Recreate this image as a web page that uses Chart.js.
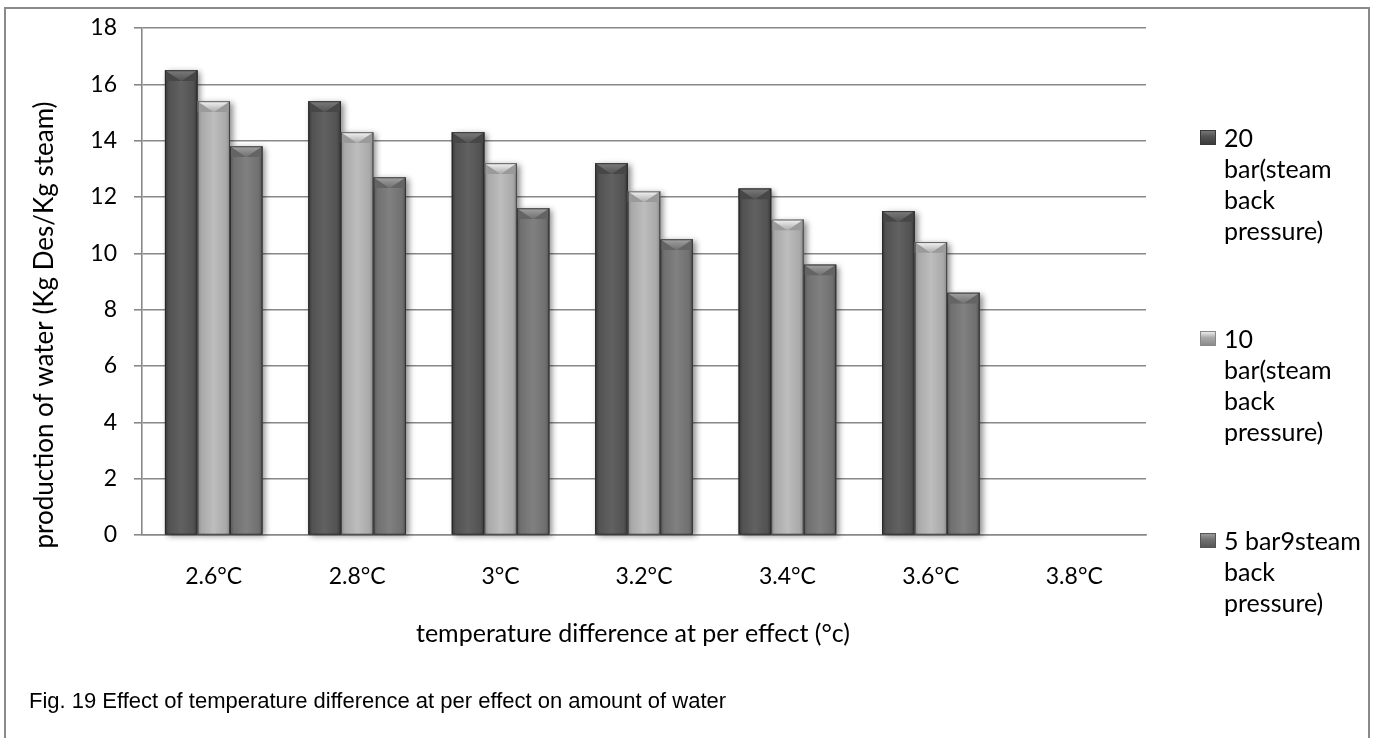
<!DOCTYPE html>
<html>
<head>
<meta charset="utf-8">
<script src="https://cdn.jsdelivr.net/npm/chart.js@4.4.0/dist/chart.umd.min.js"></script>
<style>
  html, body { margin: 0; padding: 0; background: #fff; }
  body { width: 1375px; height: 738px; position: relative; overflow: hidden; }
  #frame { position: absolute; left: 4px; top: 7px; width: 1366px; height: 760px; border: 2px solid #8a8a8a; box-sizing: border-box; }
  #chart { position: absolute; left: 0; top: 0; }
  #legend { position: absolute; left: 1200px; top: 0; width: 170px; font-family: Lato, "Open Sans", sans-serif; font-size: 25px; color: #000; }
  .item { position: absolute; left: 0; white-space: nowrap; }
  .item .box { position: absolute; left: 0; width: 16px; height: 15px; }
  .item .txt { position: absolute; left: 24px; top: 0; line-height: 31px; }
  #caption { position: absolute; left: 29px; top: 688px; font-family: "Liberation Sans", Arial, sans-serif; font-size: 22px; color: #000; white-space: nowrap; }
</style>
</head>
<body>
<div id="frame"></div>
<canvas id="chart" width="1375" height="738"></canvas>
<div id="legend"></div>
<div id="caption"></div>
<script>
// ---- data ----
const categories = ["2.6°C", "2.8°C", "3°C", "3.2°C", "3.4°C", "3.6°C", "3.8°C"];
const bar20 = [16.5, 15.4, 14.3, 13.2, 12.3, 11.5, null];
const bar10 = [15.4, 14.3, 13.2, 12.2, 11.2, 10.4, null];
const bar5  = [13.8, 12.7, 11.6, 10.5, 9.6, 8.6, null];
const seriesLabels = [
  ["20", "bar(steam", "back", "pressure)"],
  ["10", "bar(steam", "back", "pressure)"],
  ["5 bar9steam", "back", "pressure)"]
];
const yTicks = [0, 2, 4, 6, 8, 10, 12, 14, 16, 18];
const xTitle = "temperature difference at per effect (°c)";
const yTitle = "production of water (Kg Des/Kg steam)";
const captionText = "Fig. 19 Effect of temperature difference at per effect on amount of water";

// ---- styles ----
const palettes = [
  { flat: "#555555", edge: "#383838", mid: "#525252", light: "#616161", capA: "#7c7c7c", capB: "#474747" },
  { flat: "#a8a8a8", edge: "#888888", mid: "#a9a9a9", light: "#bdbdbd", capA: "#f6f6f6", capB: "#9a9a9a" },
  { flat: "#737373", edge: "#545454", mid: "#707070", light: "#808080", capA: "#a2a2a2", capB: "#646464" }
];
const FONT = "Lato, 'Open Sans', sans-serif";

function paintBar(ctx, x0, x1, yTop, yBase, p) {
  const w = x1 - x0;
  const g = ctx.createLinearGradient(x0, 0, x1, 0);
  g.addColorStop(0, p.edge);
  g.addColorStop(0.12, p.mid);
  g.addColorStop(0.5, p.light);
  g.addColorStop(0.88, p.mid);
  g.addColorStop(1, p.edge);
  ctx.fillStyle = g;
  ctx.fillRect(x0, yTop, w, yBase - yTop);
  const h = Math.min(w * 0.33, yBase - yTop);
  const cx = (x0 + x1) / 2;
  ctx.fillStyle = p.capB;
  ctx.beginPath();
  ctx.moveTo(x0, yTop); ctx.lineTo(cx, yTop + h); ctx.lineTo(x0, yTop + h); ctx.closePath(); ctx.fill();
  ctx.beginPath();
  ctx.moveTo(x1, yTop); ctx.lineTo(cx, yTop + h); ctx.lineTo(x1, yTop + h); ctx.closePath(); ctx.fill();
  const cg = ctx.createLinearGradient(0, yTop, 0, yTop + h);
  cg.addColorStop(0, p.capA);
  cg.addColorStop(1, p.mid);
  ctx.fillStyle = cg;
  ctx.beginPath();
  ctx.moveTo(x0, yTop); ctx.lineTo(x1, yTop); ctx.lineTo(cx, yTop + h); ctx.closePath(); ctx.fill();
  ctx.strokeStyle = "rgba(30,30,30,0.7)";
  ctx.lineWidth = 1;
  ctx.strokeRect(x0 + 0.5, yTop + 0.5, w - 1, yBase - yTop - 0.5);
}

const bevelPlugin = {
  id: "bevel",
  afterDatasetsDraw(chart) {
    const ctx = chart.ctx;
    const metas = chart.data.datasets.map((d, i) => chart.getDatasetMeta(i));
    ctx.save();
    ctx.shadowColor = "rgba(0,0,0,0.45)";
    ctx.shadowBlur = 6;
    ctx.shadowOffsetX = 3;
    ctx.shadowOffsetY = 2;
    metas.forEach((meta, di) => {
      meta.data.forEach((el, i) => {
        if (chart.data.datasets[di].data[i] == null) return;
        ctx.fillStyle = palettes[di].flat;
        ctx.fillRect(el.x - el.width / 2, el.y, el.width, el.base - el.y);
      });
    });
    ctx.restore();
    ctx.save();
    metas.forEach((meta, di) => {
      meta.data.forEach((el, i) => {
        if (chart.data.datasets[di].data[i] == null) return;
        paintBar(ctx, el.x - el.width / 2, el.x + el.width / 2, el.y, el.base, palettes[di]);
      });
    });
    ctx.restore();
  }
};

// axis titles placed as in the reference (not centred on the plot)
const axisTitlePlugin = {
  id: "axisTitles",
  afterDraw(chart) {
    const ctx = chart.ctx;
    ctx.save();
    ctx.fillStyle = "#000";
    ctx.textAlign = "center";
    ctx.textBaseline = "middle";
    ctx.font = "25px " + FONT;
    ctx.fillText(xTitle, 633, 634);
    ctx.translate(45, 325);
    ctx.rotate(-Math.PI / 2);
    ctx.font = "26px " + FONT;
    ctx.fillText(yTitle, 0, 0);
    ctx.restore();
  }
};

const seriesData = [bar20, bar10, bar5];
const chart = new Chart(document.getElementById("chart"), {
  type: "bar",
  data: {
    labels: categories,
    datasets: seriesData.map((d, i) => ({
      label: seriesLabels[i].join(" "),
      data: d,
      backgroundColor: palettes[i].flat,
      borderWidth: 0,
      categoryPercentage: 0.68,
      barPercentage: 1.0
    }))
  },
  options: {
    responsive: false,
    animation: false,
    devicePixelRatio: 1,
    layout: { padding: { left: 14, top: 28, right: 229, bottom: 91 } },
    plugins: { legend: { display: false }, tooltip: { enabled: false } },
    scales: {
      x: {
        grid: { display: true, drawOnChartArea: false, drawTicks: false },
        border: { display: true, color: "#888888", width: 1.6 },
        ticks: { color: "#000", font: { family: FONT, size: 23 }, padding: 28, maxRotation: 0 },
        title: { display: false, text: xTitle },
        afterFit(scale) { scale.height = 112; scale.paddingLeft = 0; scale.paddingRight = 0; }
      },
      y: {
        min: 0, max: 18,
        afterBuildTicks(scale) { scale.ticks = yTicks.map(v => ({ value: v })); },
        grid: { color: "#888888", lineWidth: 1.6, tickLength: 8, drawTicks: true },
        border: { display: true, color: "#888888", width: 1.6 },
        ticks: { color: "#000", font: { family: FONT, size: 23 }, padding: 17 },
        title: { display: false, text: yTitle },
        afterFit(scale) { scale.width = 128; scale.paddingTop = 0; scale.paddingBottom = 0; }
      }
    }
  },
  plugins: [bevelPlugin, axisTitlePlugin]
});

// ---- legend (HTML) ----
const legendTops = [137, 338, 540];
const legend = document.getElementById("legend");
seriesLabels.forEach((lines, i) => {
  const item = document.createElement("div");
  item.className = "item";
  item.style.top = (legendTops[i] - 15.5) + "px";
  const box = document.createElement("div");
  box.className = "box";
  box.style.top = "8px";
  const p = palettes[i];
  box.style.background = "linear-gradient(to bottom, " + p.capA + " 0%, " + p.mid + " 45%, " + p.edge + " 100%)";
  box.style.boxShadow = "inset 0 0 0 1px " + p.edge;
  const txt = document.createElement("div");
  txt.className = "txt";
  lines.forEach(l => { const d = document.createElement("div"); d.textContent = l; txt.appendChild(d); });
  item.appendChild(box);
  item.appendChild(txt);
  legend.appendChild(item);
});
document.getElementById("caption").textContent = captionText;
</script>
</body>
</html>
